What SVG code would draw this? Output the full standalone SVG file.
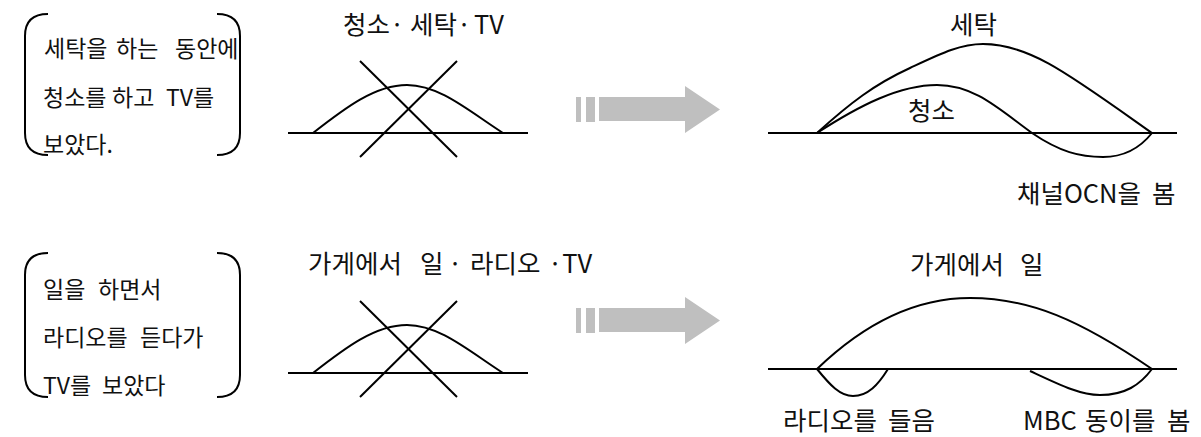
<svg xmlns="http://www.w3.org/2000/svg" width="1201" height="437" viewBox="0 0 1201 437">
<style>
.ln{fill:none;stroke:#000;stroke-width:2}
.br{fill:none;stroke:#000;stroke-width:2}
.t{font-family:"Noto Sans CJK KR","Malgun Gothic",sans-serif;fill:#111}
.s{font-size:23px}
.b{font-size:25.5px}
.ar{fill:#bfbfbf}
</style>
<rect width="1201" height="437" fill="#fff"/>
<g id="box1">
<path class="br" d="M48,14 C32,14 25,22 25,36 L25,133 C25,147 32,155 48,155"/>
<path class="br" d="M217,14 C233,14 240,22 240,36 L240,133 C240,147 233,155 217,155"/>
<text class="t s" y="57"><tspan x="44">세탁을</tspan> <tspan x="116">하는</tspan> <tspan x="175">동안에</tspan></text>
<text class="t s" y="106"><tspan x="43">청소를</tspan> <tspan x="112">하고</tspan> <tspan x="166">TV를</tspan></text>
<text class="t s" x="43" y="153">보았다.</text>
</g>
<g id="box2">
<path class="br" d="M48,253 C32,253 25,261 25,275 L25,375 C25,389 32,397 48,397"/>
<path class="br" d="M217,253 C233,253 240,261 240,275 L240,375 C240,389 233,397 217,397"/>
<text class="t s" y="298"><tspan x="43">일을</tspan> <tspan x="98">하면서</tspan></text>
<text class="t s" y="346"><tspan x="43">라디오를</tspan> <tspan x="140">듣다가</tspan></text>
<text class="t s" y="394"><tspan x="43">TV를</tspan> <tspan x="102">보았다</tspan></text>
</g>
<g id="cross1">
<text class="t b" y="34"><tspan x="343">청소·</tspan> <tspan x="410">세탁·</tspan> <tspan x="474">TV</tspan></text>
<line class="ln" x1="288" y1="133" x2="528" y2="133"/>
<path class="ln" d="M313,133 C345,108 375,85 407,85 C440,85 470,112 503,133"/>
<line class="ln" x1="360" y1="61" x2="457" y2="157"/>
<line class="ln" x1="457" y1="61" x2="360" y2="157"/>
</g>
<g id="cross2">
<text class="t b" y="273"><tspan x="420">일</tspan> <tspan x="448">·</tspan> <tspan x="470">라디오</tspan> <tspan x="548">·TV</tspan></text>
<text class="t b" x="308" y="273">가게에서</text>
<line class="ln" x1="288" y1="373" x2="528" y2="373"/>
<path class="ln" d="M313,373 C345,348 375,325 407,325 C440,325 470,352 503,373"/>
<line class="ln" x1="360" y1="301" x2="457" y2="397"/>
<line class="ln" x1="457" y1="301" x2="360" y2="397"/>
</g>
<g id="arrow1">
<rect class="ar" x="576" y="97" width="5" height="25"/>
<rect class="ar" x="586" y="97" width="9" height="25"/>
<path class="ar" d="M599,97 L685,97 L685,86 L720,109.5 L685,133 L685,121 L599,121 Z"/>
</g>
<g id="arrow2">
<rect class="ar" x="576" y="308" width="5" height="25"/>
<rect class="ar" x="586" y="308" width="9" height="25"/>
<path class="ar" d="M599,308 L685,308 L685,297 L720,320.5 L685,344 L685,332 L599,332 Z"/>
</g>
<g id="result1">
<text class="t b" x="950" y="34">세탁</text>
<line class="ln" x1="768" y1="133" x2="1177" y2="133"/>
<path class="ln" d="M817,133 C850,103 875,84 910,68 C940,54 960,44 983,44 C1030,44 1070,75 1152,133"/>
<path class="ln" d="M817,133 C860,105 900,85 937,85 C975,85 1000,110 1032,133 C1060,152 1080,157 1103,157 C1125,157 1140,148 1152,133"/>
<text class="t b" x="908" y="120">청소</text>
<text class="t b" y="203"><tspan x="1017">채널OCN을</tspan> <tspan x="1152">봄</tspan></text>
</g>
<g id="result2">
<text class="t b" y="274"><tspan x="910">가게에서</tspan> <tspan x="1020">일</tspan></text>
<line class="ln" x1="768" y1="369" x2="1177" y2="369"/>
<path class="ln" d="M817,369 C870,318 920,298 970,298 C1030,298 1080,320 1152,369"/>
<path class="ln" d="M817,369 C830,385 840,396 853,396 C868,396 878,385 888,369"/>
<path class="ln" d="M1030,371 C1060,385 1080,395 1100,395 C1125,395 1140,385 1152,369"/>
<text class="t b" y="430"><tspan x="783">라디오를</tspan> <tspan x="888">들음</tspan></text>
<text class="t b" y="430"><tspan x="1023">MBC</tspan> <tspan x="1085">동이를</tspan> <tspan x="1167">봄</tspan></text>
</g>
</svg>
